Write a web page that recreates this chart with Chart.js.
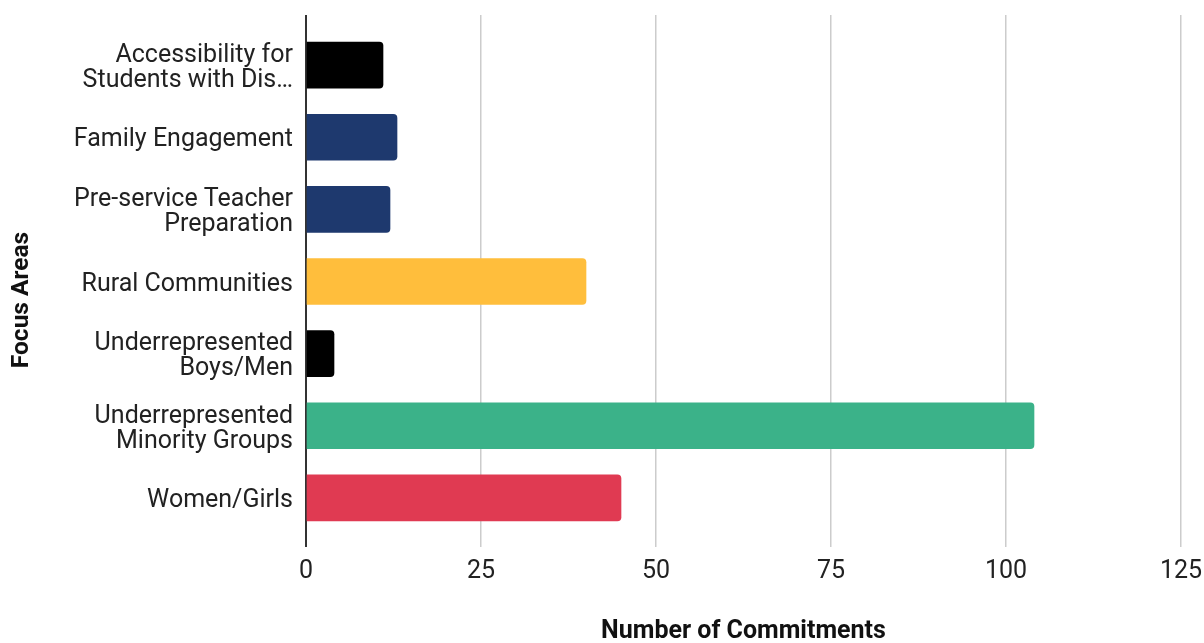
<!DOCTYPE html>
<html>
<head>
<meta charset="utf-8">
<script src="https://cdn.jsdelivr.net/npm/chart.js@4"></script>
<style>
    html, body {margin: 0; padding: 0; background: #fff;}
    #wrap {width: 1204px; height: 643px;}
</style>
</head>
<body>
<div id="wrap"><canvas id="focusChart" width="1204" height="643"></canvas></div>
<script>
// 数据
var focusAreas = [
    ['Accessibility for', 'Students with Dis…'],
    'Family Engagement',
    ['Pre-service Teacher', 'Preparation'],
    'Rural Communities',
    ['Underrepresented', 'Boys/Men'],
    ['Underrepresented', 'Minority Groups'],
    'Women/Girls'
];
var commitments = [11, 13, 12, 40, 4, 104, 45];
var barColors = ['#000000', '#1e396e', '#1e396e', '#ffbe3c', '#000000', '#3bb289', '#e03a52'];
var xTicks = [0, 25, 50, 75, 100, 125];

var gridColor = function (c) {
    return c.tick && c.tick.value === 0 ? '#333333' : '#cccccc';
};
var gridWidth = function (c) {
    return c.tick && c.tick.value === 0 ? 2 : 1.5;
};

// 纵轴标题
var yTitlePlugin = {
    id: 'yTitle',
    afterDraw: function (chart) {
        var ctx = chart.ctx;
        ctx.save();
        ctx.translate(22, 300);
        ctx.rotate(-Math.PI / 2);
        ctx.font = 'bold 24.5px Roboto';
        ctx.fillStyle = '#111111';
        ctx.textAlign = 'center';
        ctx.textBaseline = 'middle';
        ctx.fillText('Focus Areas', 0, 0);
        ctx.restore();
    }
};

var ctx = document.getElementById('focusChart').getContext('2d');
new Chart(ctx, {
    type: 'bar',
    data: {
        labels: focusAreas,
        datasets: [{
            data: commitments,
            backgroundColor: barColors,
            borderRadius: 4,
            barThickness: 46
        }]
    },
    options: {
        indexAxis: 'y',
        responsive: false,
        animation: false,
        layout: {padding: {top: 15, right: 23, bottom: 0, left: 0}},
        plugins: {legend: {display: false}, tooltip: {enabled: false}},
        scales: {
            x: {
                type: 'linear',
                position: 'bottom',
                min: xTicks[0],
                max: xTicks[xTicks.length - 1],
                afterBuildTicks: function (s) {
                    s.ticks = xTicks.map(function (v) { return {value: v}; });
                },
                afterFit: function (s) {
                    s.height = 109;
                    s.paddingRight = 0;
                    s.paddingLeft = 0;
                },
                grid: {color: gridColor, tickColor: gridColor, lineWidth: gridWidth, tickLength: 13},
                border: {display: false},
                ticks: {color: '#222222', font: {family: 'Roboto', size: 25}, padding: 10},
                title: {
                    display: true,
                    text: 'Number of Commitments',
                    color: '#111111',
                    font: {family: 'Roboto', size: 25, weight: 'bold', lineHeight: 1},
                    padding: {top: 0, bottom: -1}
                }
            },
            x2: {
                type: 'linear',
                position: 'top',
                min: xTicks[0],
                max: xTicks[xTicks.length - 1],
                afterBuildTicks: function (s) {
                    s.ticks = xTicks.map(function (v) { return {value: v}; });
                },
                afterFit: function (s) {
                    s.height = 14;
                    s.paddingRight = 0;
                    s.paddingLeft = 0;
                },
                grid: {drawOnChartArea: false, color: gridColor, tickColor: gridColor, lineWidth: gridWidth, tickLength: 14},
                border: {display: false},
                ticks: {display: false}
            },
            y: {
                afterFit: function (s) { s.width = 306; },
                grid: {display: false, drawTicks: false},
                border: {display: false},
                ticks: {
                    color: '#222222',
                    font: {family: 'Roboto', size: 25, lineHeight: 1.0},
                    padding: 13,
                    labelOffset: 3,
                    autoSkip: false
                }
            }
        }
    },
    plugins: [yTitlePlugin]
});
</script>
</body>
</html>
